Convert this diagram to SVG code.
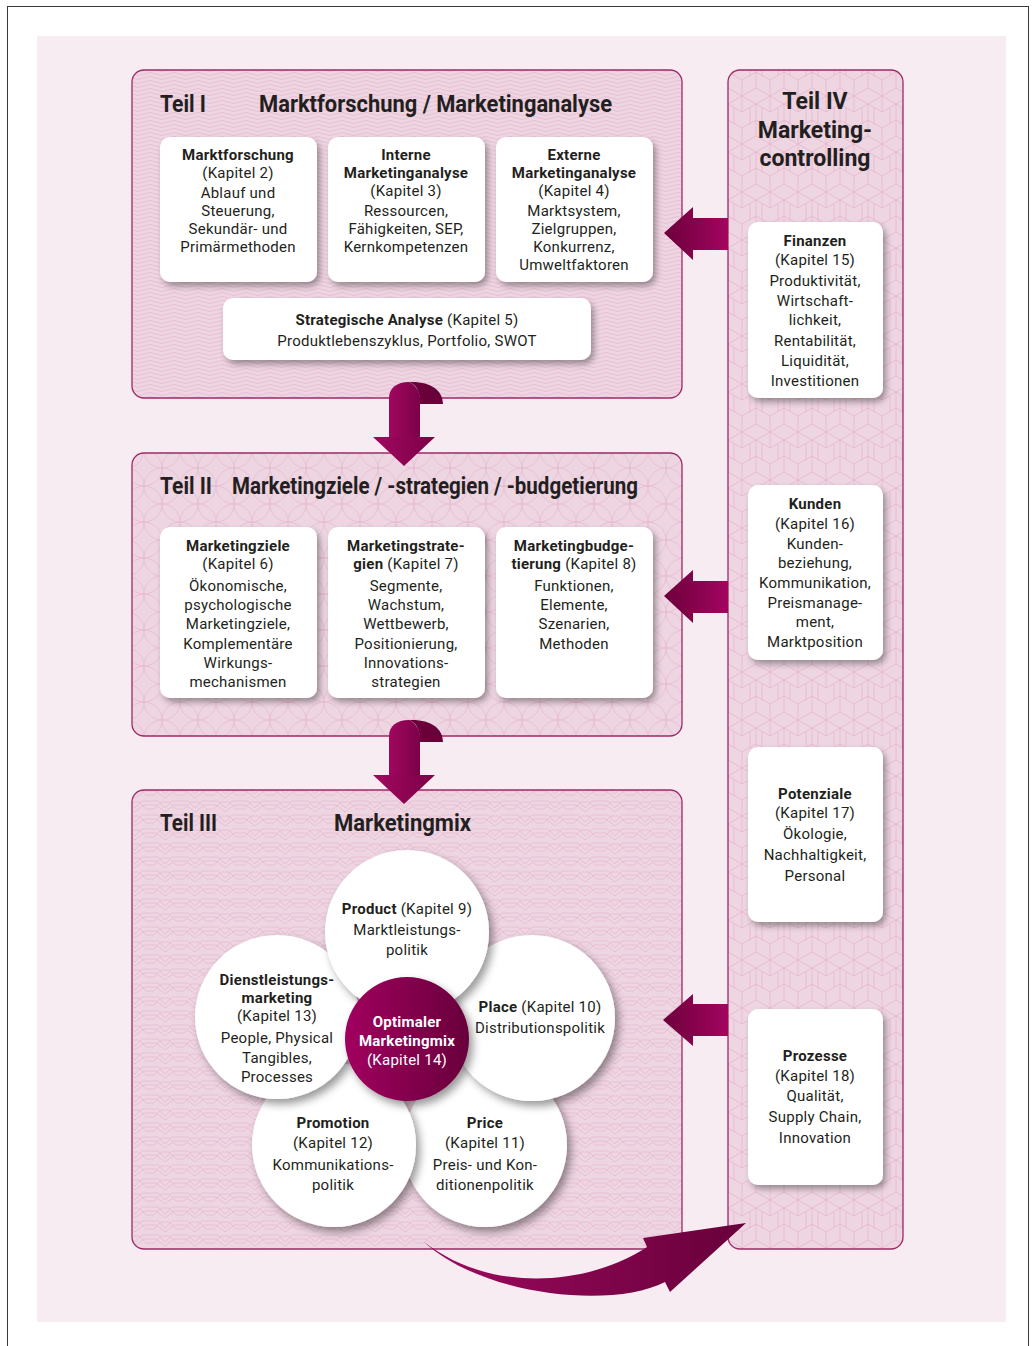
<svg xmlns="http://www.w3.org/2000/svg" width="1036" height="1346" viewBox="0 0 1036 1346">
<defs>
<style>
.t{font-family:'Liberation Sans Narrow','Roboto',sans-serif;font-size:15px;fill:#231f20;text-anchor:middle;letter-spacing:0.25px}
.b{font-weight:bold}
.w{fill:#ffffff}
.h{font-family:'Liberation Sans Narrow','Roboto',sans-serif;font-size:23px;font-weight:bold;fill:#231f20}
.hc{text-anchor:middle}
.panelbg{fill:#edd5e1}
.panelbd{fill:none;stroke:#9c2a66;stroke-width:1.3}
.box{fill:#ffffff;filter:url(#sh)}
.circ{fill:#ffffff;filter:url(#shc)}
</style>
<filter id="sh" x="-20%" y="-20%" width="140%" height="140%">
<feDropShadow dx="3" dy="4" stdDeviation="3" flood-color="#000" flood-opacity="0.35"/>
</filter>
<filter id="shc" x="-20%" y="-20%" width="140%" height="140%">
<feDropShadow dx="4" dy="5" stdDeviation="4" flood-color="#000" flood-opacity="0.4"/>
</filter>
<linearGradient id="gArrowL" x1="0" y1="0" x2="1" y2="0">
<stop offset="0" stop-color="#6c003b"/>
<stop offset="1" stop-color="#a3055f"/>
</linearGradient>
<linearGradient id="gArrowR" x1="0" y1="0" x2="1" y2="0">
<stop offset="0" stop-color="#9e0a60"/>
<stop offset="1" stop-color="#68003a"/>
</linearGradient>
<linearGradient id="gDown" x1="0" y1="0" x2="1" y2="0">
<stop offset="0" stop-color="#a0085f"/>
<stop offset="1" stop-color="#7c0047"/>
</linearGradient>
<linearGradient id="gCenter" x1="0" y1="0" x2="1" y2="0">
<stop offset="0" stop-color="#a1005f"/>
<stop offset="1" stop-color="#68003b"/>
</linearGradient>
<pattern id="pA" width="24" height="12" patternUnits="userSpaceOnUse">
<path d="M0,2 Q6,-1 12,2 T24,2 M0,6 Q6,3 12,6 T24,6 M0,10 Q6,7 12,10 T24,10" fill="none" stroke="#e3a2c4" stroke-width="0.55" stroke-opacity="0.8"/>
</pattern>
<pattern id="pB" width="36" height="36" patternUnits="userSpaceOnUse">
<g fill="none" stroke="#e3a2c4" stroke-width="0.55" stroke-opacity="0.8">
<circle cx="0" cy="0" r="18"/><circle cx="36" cy="0" r="18"/><circle cx="0" cy="36" r="18"/><circle cx="36" cy="36" r="18"/><circle cx="18" cy="18" r="18"/>
</g>
</pattern>
<pattern id="pC" width="30" height="14" patternUnits="userSpaceOnUse">
<path d="M0,3 L8,3 L15,10 L22,3 L30,3 M0,7 L6,7 L15,14 L24,7 L30,7 M0,11 L4,11 L11,4 L19,4 L26,11 L30,11" fill="none" stroke="#e3a2c4" stroke-width="0.55" stroke-opacity="0.8"/>
</pattern>
<pattern id="pD" width="28" height="48" patternUnits="userSpaceOnUse">
<path d="M0,8 L14,0 L28,8 L28,24 L14,32 L0,24 Z M14,0 L14,16 M0,8 L14,16 L28,8 M14,32 L14,48 M0,24 L0,40 L14,48 L28,40 L28,24 M6,12 L6,28 M22,12 L22,28" fill="none" stroke="#e39ec3" stroke-width="0.55" stroke-opacity="0.85"/>
</pattern>
</defs>

<rect x="7.5" y="6.5" width="1021" height="1345" fill="#ffffff" stroke="#3a3a3a" stroke-width="1"/>
<rect x="37" y="36" width="969" height="1286" fill="#f8ecf3"/>

<g id="teil1">
<rect x="132" y="70" width="550" height="328" rx="12" class="panelbg"/>
<rect x="132" y="70" width="550" height="328" rx="12" fill="url(#pA)"/>
<rect x="132" y="70" width="550" height="328" rx="12" class="panelbd"/>
<text x="160" y="112" class="h" textLength="46" lengthAdjust="spacingAndGlyphs">Teil I</text>
<text x="259" y="112" class="h" textLength="353" lengthAdjust="spacingAndGlyphs">Marktforschung / Marketinganalyse</text>
</g>
<g id="box-marktforschung">
<rect x="160" y="137" width="157" height="145" rx="10" class="box"/>
<text class="t"><tspan x="238" y="160" class="b">Marktforschung</tspan><tspan x="238" y="178">(Kapitel 2)</tspan><tspan x="238" y="198">Ablauf und</tspan><tspan x="238" y="216">Steuerung,</tspan><tspan x="238" y="234">Sekundär- und</tspan><tspan x="238" y="252">Primärmethoden</tspan></text>
</g>
<g id="box-interne">
<rect x="328" y="137" width="157" height="145" rx="10" class="box"/>
<text class="t"><tspan x="406" y="160" class="b">Interne</tspan><tspan x="406" y="178" class="b">Marketinganalyse</tspan><tspan x="406" y="196">(Kapitel 3)</tspan><tspan x="406" y="216">Ressourcen,</tspan><tspan x="406" y="234">Fähigkeiten, SEP,</tspan><tspan x="406" y="252">Kernkompetenzen</tspan></text>
</g>
<g id="box-externe">
<rect x="496" y="137" width="157" height="145" rx="10" class="box"/>
<text class="t"><tspan x="574" y="160" class="b">Externe</tspan><tspan x="574" y="178" class="b">Marketinganalyse</tspan><tspan x="574" y="196">(Kapitel 4)</tspan><tspan x="574" y="216">Marktsystem,</tspan><tspan x="574" y="234">Zielgruppen,</tspan><tspan x="574" y="252">Konkurrenz,</tspan><tspan x="574" y="270">Umweltfaktoren</tspan></text>
</g>
<g id="box-strategische">
<rect x="223" y="298" width="368" height="62" rx="10" class="box"/>
<text class="t"><tspan x="407" y="325"><tspan class="b">Strategische Analyse</tspan> (Kapitel 5)</tspan><tspan x="407" y="346">Produktlebenszyklus, Portfolio, SWOT</tspan></text>
</g>

<g id="teil2">
<rect x="132" y="453" width="550" height="283" rx="12" class="panelbg"/>
<rect x="132" y="453" width="550" height="283" rx="12" fill="url(#pB)"/>
<rect x="132" y="453" width="550" height="283" rx="12" class="panelbd"/>
<text x="160" y="494" class="h" textLength="52" lengthAdjust="spacingAndGlyphs">Teil II</text>
<text x="232" y="494" class="h" textLength="406" lengthAdjust="spacingAndGlyphs">Marketingziele / -strategien / -budgetierung</text>
</g>
<g id="box-marketingziele">
<rect x="160" y="527" width="157" height="171" rx="10" class="box"/>
<text class="t"><tspan x="238" y="551" class="b">Marketingziele</tspan><tspan x="238" y="569">(Kapitel 6)</tspan><tspan x="238" y="591">Ökonomische,</tspan><tspan x="238" y="610">psychologische</tspan><tspan x="238" y="629">Marketingziele,</tspan><tspan x="238" y="649">Komplementäre</tspan><tspan x="238" y="668">Wirkungs-</tspan><tspan x="238" y="687">mechanismen</tspan></text>
</g>
<g id="box-marketingstrategien">
<rect x="328" y="527" width="157" height="171" rx="10" class="box"/>
<text class="t"><tspan x="406" y="551" class="b">Marketingstrate-</tspan><tspan x="406" y="569"><tspan class="b">gien</tspan> (Kapitel 7)</tspan><tspan x="406" y="591">Segmente,</tspan><tspan x="406" y="610">Wachstum,</tspan><tspan x="406" y="629">Wettbewerb,</tspan><tspan x="406" y="649">Positionierung,</tspan><tspan x="406" y="668">Innovations-</tspan><tspan x="406" y="687">strategien</tspan></text>
</g>
<g id="box-marketingbudgetierung">
<rect x="496" y="527" width="157" height="171" rx="10" class="box"/>
<text class="t"><tspan x="574" y="551" class="b">Marketingbudge-</tspan><tspan x="574" y="569"><tspan class="b">tierung</tspan> (Kapitel 8)</tspan><tspan x="574" y="591">Funktionen,</tspan><tspan x="574" y="610">Elemente,</tspan><tspan x="574" y="629">Szenarien,</tspan><tspan x="574" y="649">Methoden</tspan></text>
</g>

<g id="teil3">
<rect x="132" y="790" width="550" height="459" rx="12" class="panelbg"/>
<rect x="132" y="790" width="550" height="459" rx="12" fill="url(#pC)"/>
<rect x="132" y="790" width="550" height="459" rx="12" class="panelbd"/>
<text x="160" y="831" class="h" textLength="57" lengthAdjust="spacingAndGlyphs">Teil III</text>
<text x="334" y="831" class="h" textLength="137" lengthAdjust="spacingAndGlyphs">Marketingmix</text>
</g>
<g id="circle-price">
<circle cx="485" cy="1145" r="82" class="circ"/>
<text class="t"><tspan x="485" y="1128" class="b">Price</tspan><tspan x="485" y="1148">(Kapitel 11)</tspan><tspan x="485" y="1170">Preis- und Kon-</tspan><tspan x="485" y="1190">ditionenpolitik</tspan></text>
</g>
<g id="circle-place">
<circle cx="532" cy="1018" r="83" class="circ"/>
<text class="t"><tspan x="540" y="1012"><tspan class="b">Place</tspan> (Kapitel 10)</tspan><tspan x="540" y="1033">Distributionspolitik</tspan></text>
</g>
<g id="circle-promotion">
<circle cx="334" cy="1145" r="82" class="circ"/>
<text class="t"><tspan x="333" y="1128" class="b">Promotion</tspan><tspan x="333" y="1148">(Kapitel 12)</tspan><tspan x="333" y="1170">Kommunikations-</tspan><tspan x="333" y="1190">politik</tspan></text>
</g>
<g id="circle-dienstleistung">
<circle cx="277" cy="1017" r="82" class="circ"/>
<text class="t"><tspan x="277" y="985" class="b">Dienstleistungs-</tspan><tspan x="277" y="1003" class="b">marketing</tspan><tspan x="277" y="1021">(Kapitel 13)</tspan><tspan x="277" y="1043">People, Physical</tspan><tspan x="277" y="1063">Tangibles,</tspan><tspan x="277" y="1082">Processes</tspan></text>
</g>
<g id="circle-product">
<circle cx="407" cy="932" r="82" class="circ"/>
<text class="t"><tspan x="407" y="914"><tspan class="b">Product</tspan> (Kapitel 9)</tspan><tspan x="407" y="935">Marktleistungs-</tspan><tspan x="407" y="955">politik</tspan></text>
</g>
<g id="circle-optimaler">
<circle cx="407" cy="1039" r="62" fill="url(#gCenter)" filter="url(#shc)"/>
<text class="t w"><tspan x="407" y="1027" class="b w">Optimaler</tspan><tspan x="407" y="1046" class="b w">Marketingmix</tspan><tspan x="407" y="1065" class="w">(Kapitel 14)</tspan></text>
</g>

<g id="teil4">
<rect x="728" y="70" width="175" height="1179" rx="12" class="panelbg"/>
<rect x="728" y="70" width="175" height="1179" rx="12" fill="url(#pD)"/>
<rect x="728" y="70" width="175" height="1179" rx="12" class="panelbd"/>
<text class="h hc"><tspan x="815" y="109">Teil IV</tspan><tspan x="815" y="138">Marketing-</tspan><tspan x="815" y="166">controlling</tspan></text>
</g>
<g id="box-finanzen">
<rect x="748" y="222" width="135" height="176" rx="10" class="box"/>
<text class="t"><tspan x="815" y="246" class="b">Finanzen</tspan><tspan x="815" y="265">(Kapitel 15)</tspan><tspan x="815" y="286">Produktivität,</tspan><tspan x="815" y="306">Wirtschaft-</tspan><tspan x="815" y="325">lichkeit,</tspan><tspan x="815" y="346">Rentabilität,</tspan><tspan x="815" y="366">Liquidität,</tspan><tspan x="815" y="386">Investitionen</tspan></text>
</g>
<g id="box-kunden">
<rect x="748" y="485" width="135" height="175" rx="10" class="box"/>
<text class="t"><tspan x="815" y="509" class="b">Kunden</tspan><tspan x="815" y="529">(Kapitel 16)</tspan><tspan x="815" y="549">Kunden-</tspan><tspan x="815" y="568">beziehung,</tspan><tspan x="815" y="588">Kommunikation,</tspan><tspan x="815" y="608">Preismanage-</tspan><tspan x="815" y="627">ment,</tspan><tspan x="815" y="647">Marktposition</tspan></text>
</g>
<g id="box-potenziale">
<rect x="748" y="747" width="135" height="175" rx="10" class="box"/>
<text class="t"><tspan x="815" y="799" class="b">Potenziale</tspan><tspan x="815" y="818">(Kapitel 17)</tspan><tspan x="815" y="839">Ökologie,</tspan><tspan x="815" y="860">Nachhaltigkeit,</tspan><tspan x="815" y="881">Personal</tspan></text>
</g>
<g id="box-prozesse">
<rect x="748" y="1009" width="135" height="176" rx="10" class="box"/>
<text class="t"><tspan x="815" y="1061" class="b">Prozesse</tspan><tspan x="815" y="1081">(Kapitel 18)</tspan><tspan x="815" y="1101">Qualität,</tspan><tspan x="815" y="1122">Supply Chain,</tspan><tspan x="815" y="1143">Innovation</tspan></text>
</g>

<g id="connectors">
<path d="M664,233 L693,207 L693,218 L728,218 L728,250 L693,250 L693,260 Z" fill="url(#gArrowL)"/>
<path d="M664,596 L693,570 L693,581 L728,581 L728,613 L693,613 L693,623 Z" fill="url(#gArrowL)"/>
<path d="M663,1020 L693,994 L693,1004 L728,1004 L728,1036 L693,1036 L693,1046 Z" fill="url(#gArrowL)"/>
<g id="down1">
<path d="M409,382 C430,381 443,390 443,404 L420,404 C420,392 417,385 409,382 Z" fill="#6a0039"/>
<path d="M389,438 L389,398 C389,388 397,382 409,382 C416,385 420,392 420,400 L420,438 Z" fill="url(#gDown)"/>
<path d="M373,437 L435,437 L404,466 Z" fill="url(#gDown)"/>
</g>
<g id="down2">
<path d="M409,720 C430,719 443,728 443,742 L420,742 C420,730 417,723 409,720 Z" fill="#6a0039"/>
<path d="M389,776 L389,736 C389,726 397,720 409,720 C416,723 420,730 420,738 L420,776 Z" fill="url(#gDown)"/>
<path d="M373,775 L435,775 L404,804 Z" fill="url(#gDown)"/>
</g>
<path d="M423,1241 C480,1295 610,1310 665,1282 L670,1292 L746,1223 L643,1238 L647,1247 C590,1285 490,1295 423,1241 Z" fill="url(#gArrowR)"/>
</g>
</svg>
